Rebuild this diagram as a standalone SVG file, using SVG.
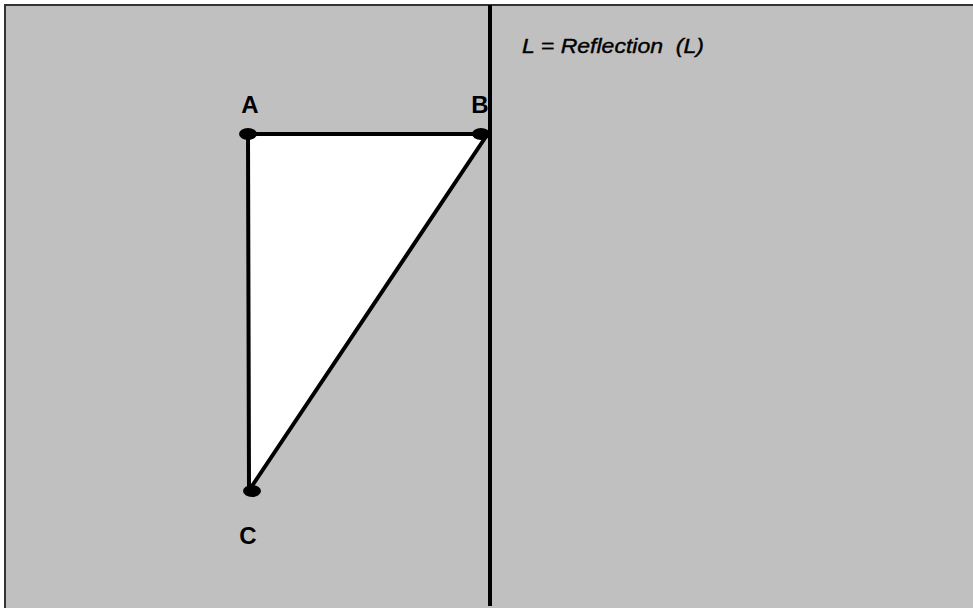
<svg xmlns="http://www.w3.org/2000/svg" width="973" height="608" viewBox="0 0 973 608">
<style>
.lbl{font-family:"Liberation Sans",Arial,sans-serif;font-weight:bold;font-size:24px;fill:#000}
.ttl{font-family:"Liberation Sans",Arial,sans-serif;font-style:italic;font-size:20px;fill:#000;stroke:#000;stroke-width:0.4}
.edge{stroke:#000;stroke-width:4;fill:none;stroke-linecap:round}
</style>
<rect x="0" y="0" width="973" height="608" fill="#fff"/>
<rect x="5" y="5" width="990" height="630" fill="#c0c0c0" stroke="#333" stroke-width="2"/>
<polygon points="248,134 486,134 250,489" fill="#fff"/>
<g id="connectors">
<line class="edge" x1="248" y1="134" x2="486" y2="134"/>
<line class="edge" x1="248" y1="134" x2="249" y2="489"/>
<line class="edge" x1="487" y1="135" x2="250" y2="489"/>
<line x1="490" y1="5" x2="490" y2="606" stroke="#000" stroke-width="4"/>
</g>
<g id="A"><ellipse cx="248" cy="134" rx="9" ry="6" fill="#000"/><text class="lbl" x="250" y="113" text-anchor="middle">A</text></g>
<g id="B"><ellipse cx="481" cy="134" rx="9" ry="6" fill="#000"/><text class="lbl" x="480" y="113" text-anchor="middle">B</text></g>
<g id="C"><ellipse cx="252" cy="491" rx="9" ry="6" fill="#000"/><text class="lbl" x="248" y="544" text-anchor="middle">C</text></g>
<g id="title"><text class="ttl" x="522" y="53" xml:space="preserve" textLength="182" lengthAdjust="spacingAndGlyphs">L = Reflection  (L)</text></g>
</svg>
